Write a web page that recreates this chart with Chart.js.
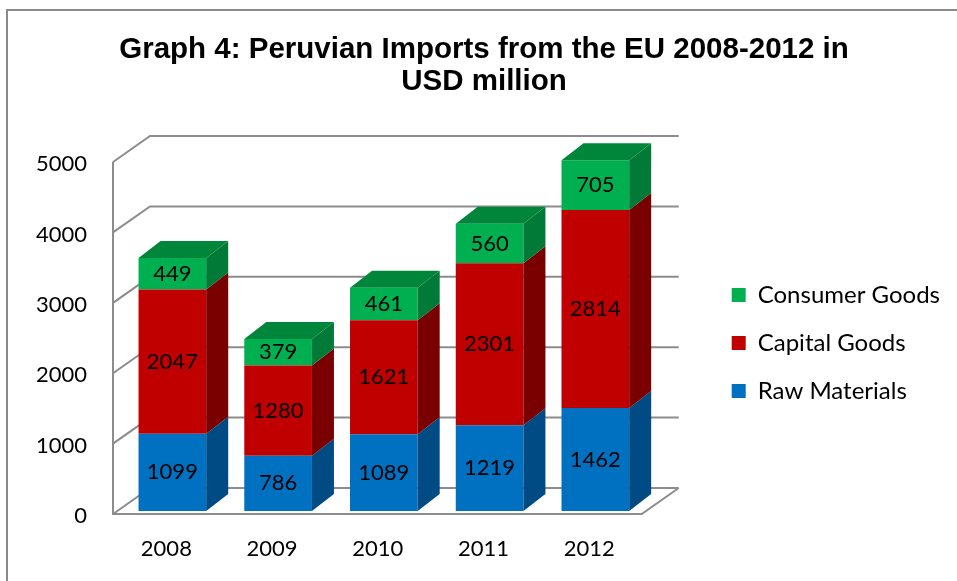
<!DOCTYPE html>
<html>
<head>
<meta charset="utf-8">
<script src="https://cdn.jsdelivr.net/npm/chart.js@4.4.0/dist/chart.umd.min.js"></script>
<style>
  html, body { margin: 0; padding: 0; background: #fff; overflow: hidden; }
  #wrap { position: relative; width: 957px; height: 581px; overflow: hidden; }
  #frame { position: absolute; left: 6px; top: 9px; width: 1000px; height: 1000px;
           border-left: 2px solid #8a8a8a; border-top: 2px solid #8a8a8a; }
  canvas { position: absolute; left: 0; top: 0; }
</style>
</head>
<body>
<div id="wrap">
  <div id="frame"></div>
  <canvas id="myChart" width="957" height="581"></canvas>
</div>
<script>
const years = ['2008', '2009', '2010', '2011', '2012'];
const rawMaterials = [1099, 786, 1089, 1219, 1462];
const capitalGoods = [2047, 1280, 1621, 2301, 2814];
const consumerGoods = [449, 379, 461, 560, 705];
const seriesNames = ['Raw Materials', 'Capital Goods', 'Consumer Goods'];
const yTicks = [0, 1000, 2000, 3000, 4000, 5000];

const frontColors = ['#0070C0', '#C00000', '#00B050'];
const sideColors = ['#004B84', '#7A0000', '#007A36'];
const topColor = '#00863B';
const font = 'Lato';

// fake 3d: back wall, side wall and floor behind the bars
const walls = {
  id: 'walls',
  beforeDatasetsDraw(chart) {
    const { ctx, chartArea: a, scales: { y } } = chart;
    const fx0 = a.left - 6.5, fx1 = a.right - 6.5;
    const yf = v => y.getPixelForValue(v) + 3;
    const DX = 37, DY = -26;
    ctx.save();
    ctx.strokeStyle = '#8c8c8c';
    ctx.lineWidth = 2;
    ctx.beginPath();
    yTicks.forEach(v => {
      ctx.moveTo(fx0, yf(v));
      ctx.lineTo(fx0 + DX, yf(v) + DY);
      ctx.lineTo(fx1 + DX, yf(v) + DY);
    });
    ctx.moveTo(fx0, yf(yTicks[yTicks.length - 1]));
    ctx.lineTo(fx0, yf(0));
    ctx.lineTo(fx1, yf(0));
    ctx.lineTo(fx1 + DX, yf(0) + DY);
    ctx.stroke();
    ctx.restore();
  },
  afterDatasetsDraw(chart) {
    const { ctx } = chart;
    const BX = 22, BY = -17;
    const n = chart.data.datasets.length;
    ctx.save();
    chart.data.datasets.forEach((ds, di) => {
      chart.getDatasetMeta(di).data.forEach((bar, i) => {
        const { x, y, base, width } = bar.getProps(['x', 'y', 'base', 'width'], true);
        const l = x - width / 2, r = x + width / 2;
        ctx.fillStyle = sideColors[di];
        ctx.beginPath();
        ctx.moveTo(r, y);
        ctx.lineTo(r + BX, y + BY);
        ctx.lineTo(r + BX, base + BY);
        ctx.lineTo(r, base);
        ctx.closePath();
        ctx.fill();
        if (di === n - 1) {
          ctx.fillStyle = topColor;
          ctx.beginPath();
          ctx.moveTo(l, y);
          ctx.lineTo(l + BX, y + BY);
          ctx.lineTo(r + BX, y + BY);
          ctx.lineTo(r, y);
          ctx.closePath();
          ctx.fill();
        }
        // value label
        ctx.fillStyle = '#000';
        ctx.font = '22px ' + font;
        ctx.textAlign = 'center';
        ctx.textBaseline = 'middle';
        ctx.fillText(String(ds.data[i]), x, (y + base) / 2);
      });
    });
    ctx.restore();
  }
};

const ctx = document.getElementById('myChart').getContext('2d');
const chart = new Chart(ctx, {
  type: 'bar',
  data: {
    labels: years,
    datasets: [rawMaterials, capitalGoods, consumerGoods].map((vals, i) => ({
      label: seriesNames[i],
      data: vals,
      backgroundColor: frontColors[i],
      borderWidth: 0,
      barPercentage: 0.64,
      categoryPercentage: 1
    }))
  },
  options: {
    responsive: false,
    animation: false,
    layout: { padding: { left: 18, right: 7, top: 0, bottom: 0 } },
    plugins: {
      title: {
        display: true,
        text: ['Graph 4: Peruvian Imports from the EU 2008-2012 in', 'USD million'],
        color: '#000',
        font: { family: "'Liberation Sans', Arial, sans-serif", size: 29.5, weight: 'bold', lineHeight: 1.085 },
        padding: { top: 34, bottom: 61 }
      },
      legend: {
        position: 'right',
        reverse: true,
        fullSize: false,
        maxWidth: 400,
        title: { display: true, text: '', font: { size: 12, lineHeight: 1 }, padding: { top: 4, bottom: 0 } },
        labels: {
          boxWidth: 14,
          boxHeight: 14,
          padding: 24,
          color: '#000',
          font: { family: font, size: 24 }
        }
      },
      tooltip: { enabled: false }
    },
    scales: {
      x: {
        stacked: true,
        grid: { display: false, drawTicks: false },
        border: { display: false },
        ticks: { color: '#000', font: { family: font, size: 22 }, padding: 25, labelOffset: -6 },
        afterFit: s => { s.height = 70; }
      },
      y: {
        stacked: true,
        min: 0,
        max: 5000,
        grid: { display: false, drawTicks: false },
        border: { display: false },
        ticks: {
          stepSize: 1000,
          color: '#000',
          font: { family: font, size: 22 },
          padding: 32.5,
          labelOffset: 5,
          callback: v => String(v)
        },
        afterFit: s => { s.width = 101.5; }
      },
      spacer: {
        type: 'linear',
        position: 'right',
        grid: { display: false, drawTicks: false },
        border: { display: false },
        ticks: { display: false },
        afterFit: s => { s.width = 59.5; }
      }
    }
  },
  plugins: [walls]
});
</script>
</body>
</html>
